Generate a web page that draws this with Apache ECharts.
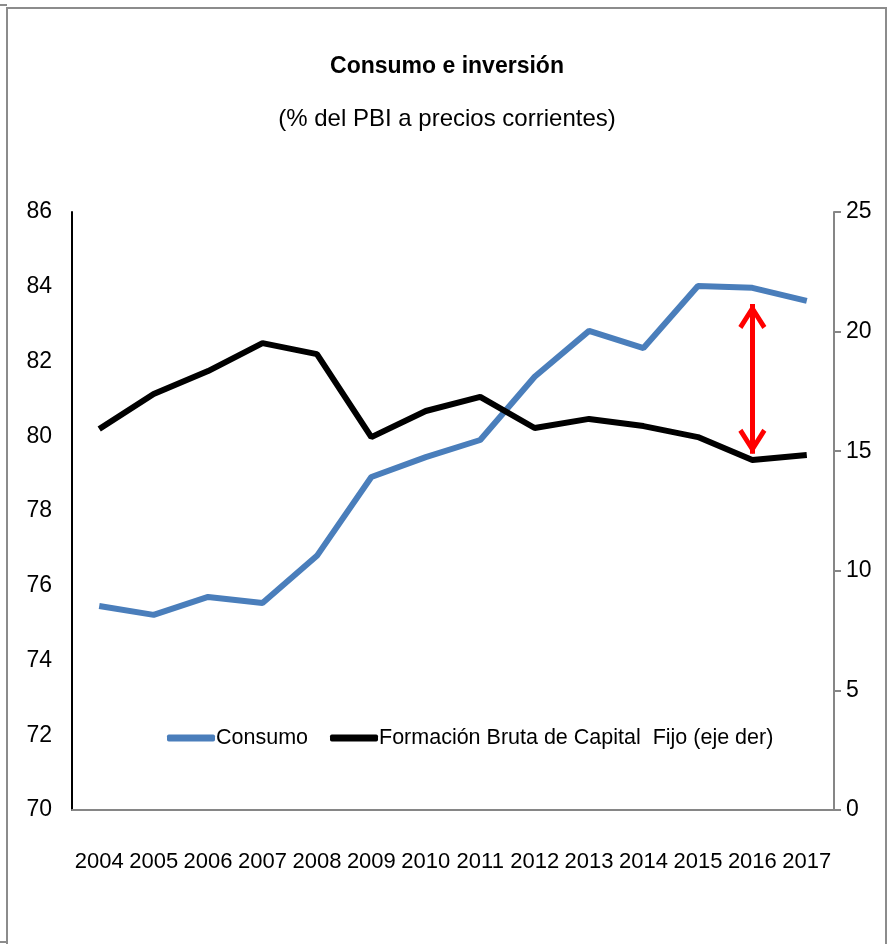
<!DOCTYPE html>
<html>
<head>
<meta charset="utf-8">
<script src="https://cdn.jsdelivr.net/npm/echarts@6/dist/echarts.min.js"></script>
<style>html,body{margin:0;padding:0;background:#fff}#c{width:894px;height:944px}</style>
</head>
<body>
<div id="c"></div>
<script>
var years = ['2004','2005','2006','2007','2008','2009','2010','2011','2012','2013','2014','2015','2016','2017'];
var consumo = [75.46,75.22,75.70,75.54,76.80,78.91,79.44,79.90,81.59,82.82,82.36,84.02,83.97,83.62];
var fbcf = [15.93,17.39,18.35,19.52,19.06,15.59,16.68,17.27,15.97,16.35,16.05,15.59,14.63,14.84];
var leftTicks = [70,86,2];
var rightTicks = [0,25,5];
var arrowYear = '2016';
var arrowRange = [83.54,79.53];

var FONT = '"Liberation Sans","Arial",sans-serif';
var chart = echarts.init(document.getElementById('c'), null, {renderer:'canvas'});
var chevron = 'path://M14,-25 L14.01,-25 L14,-24.99 Z M14,0 L28,22 L24,25 L14,9 L4,25 L0,22 Z';
chart.setOption({
  animation:false,
  backgroundColor:'#fff',
  graphic:[
    {type:'polyline',shape:{points:[[7,944],[7,8],[886,8],[886,944]]},style:{fill:'none',stroke:'#8c8c8c',lineWidth:2}},
    {type:'line',shape:{x1:0,y1:5,x2:7,y2:5},style:{stroke:'#8c8c8c',lineWidth:2}},
    {type:'line',shape:{x1:0,y1:942,x2:7,y2:942},style:{stroke:'#8c8c8c',lineWidth:2}}
  ],
  title:[
    {text:'Consumo e inversión',left:'center',top:50,textStyle:{fontFamily:FONT,fontSize:23,fontWeight:'bold',color:'#000'}},
    {text:'(% del PBI a precios corrientes)',left:'center',top:102,textStyle:{fontFamily:FONT,fontSize:24,fontWeight:'normal',color:'#000'}}
  ],
  legend:{
    left:162, top:722, itemWidth:48, itemHeight:7, itemGap:22, icon:'roundRect',
    textStyle:{fontFamily:FONT,fontSize:21.5,color:'#000',padding:[0,0,0,-4]},
    data:['Consumo','Formación Bruta de Capital  Fijo (eje der)']
  },
  grid:{left:72,right:60,top:212,bottom:134},
  xAxis:{
    type:'category', data:years, boundaryGap:true,
    axisLine:{lineStyle:{color:'#868686',width:2}},
    axisTick:{show:false},
    axisLabel:{fontFamily:FONT,fontSize:22,color:'#000',margin:41,interval:0}
  },
  yAxis:[
    {type:'value',min:leftTicks[0],max:leftTicks[1],interval:leftTicks[2],position:'left',
     axisLine:{show:true,lineStyle:{color:'#000',width:2}},axisTick:{show:false},splitLine:{show:false},
     axisLabel:{fontFamily:FONT,fontSize:23,color:'#000',margin:20}},
    {type:'value',min:rightTicks[0],max:rightTicks[1],interval:rightTicks[2],position:'right',
     axisLine:{show:true,lineStyle:{color:'#868686',width:2}},axisTick:{show:true,inside:false,length:7,lineStyle:{color:'#868686',width:2}},splitLine:{show:false},
     axisLabel:{fontFamily:FONT,fontSize:23,color:'#000',margin:12}}
  ],
  series:[
    {name:'Consumo',type:'line',data:consumo,yAxisIndex:0,symbol:'none',
     lineStyle:{color:'#4a7ebb',width:6},itemStyle:{color:'#4a7ebb'},
     markLine:{silent:true,symbol:[chevron,chevron],symbolSize:[28,50],
       lineStyle:{color:'#ff0000',width:5,type:'solid'},label:{show:false},
       data:[[{coord:[arrowYear,arrowRange[0]]},{coord:[arrowYear,arrowRange[1]]}]]}},
    {name:'Formación Bruta de Capital  Fijo (eje der)',type:'line',data:fbcf,yAxisIndex:1,symbol:'none',
     lineStyle:{color:'#000',width:6},itemStyle:{color:'#000'}}
  ]
});
</script>
</body>
</html>
